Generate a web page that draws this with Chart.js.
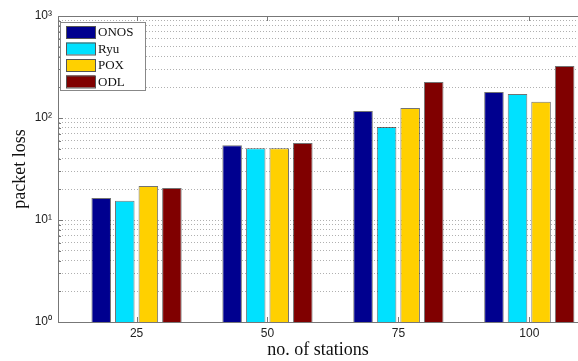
<!DOCTYPE html>
<html>
<head>
<meta charset="utf-8">
<title>Packet loss vs number of stations</title>
<script src="https://cdn.jsdelivr.net/npm/chart.js@4"></script>
<style>
  html, body { margin: 0; padding: 0; background: #fff; overflow: hidden; }
  #wrap { width: 578px; height: 361px; position: relative; }
</style>
</head>
<body>
<div id="wrap"><canvas id="lossChart" width="578" height="361"></canvas></div>
<script>
// Data (log-scale y axis)
const stations = [25, 50, 75, 100];
const seriesNames = ['ONOS', 'Ryu', 'POX', 'ODL'];
const onosLoss = [16.4, 54, 117, 180];
const ryuLoss = [15.4, 50.5, 81.5, 172];
const poxLoss = [21.5, 50.5, 125, 144];
const odlLoss = [20.6, 57, 225, 323];
const yTickLabels = { 1: '10\u2070', 10: '10\u00B9', 100: '10\u00B2', 1000: '10\u00B3' };

const fills = ['#00008F', '#00E1FF', '#FFD000', '#800000'];
const axisColor = '#777';

function toPoints(vals) {
    return vals.map((v, i) => ({ x: stations[i], y: v }));
}

// MATLAB-style box: solid spines, inward ticks, legend inside the axes
const matlabBox = {
    id: 'matlabBox',
    afterDraw(chart) {
        const ctx = chart.ctx;
        const area = chart.chartArea;
        const xs = chart.scales.x;
        const ys = chart.scales.y;
        ctx.save();
        ctx.strokeStyle = axisColor;
        ctx.lineWidth = 1;
        ctx.setLineDash([]);
        ctx.beginPath();
        ctx.moveTo(area.left, area.top + 0.5);
        ctx.lineTo(area.right, area.top + 0.5);
        ctx.moveTo(area.left + 0.5, area.top);
        ctx.lineTo(area.left + 0.5, area.bottom);
        ctx.moveTo(area.left, area.bottom + 0.5);
        ctx.lineTo(area.right, area.bottom + 0.5);
        // x ticks, inward on top and bottom
        stations.forEach(s => {
            const px = Math.round(xs.getPixelForValue(s)) + 0.5;
            ctx.moveTo(px, area.bottom);
            ctx.lineTo(px, area.bottom - 5);
            ctx.moveTo(px, area.top);
            ctx.lineTo(px, area.top + 5);
        });
        // y ticks, inward on the left
        for (let d = 1; d <= 100; d *= 10) {
            for (let m = 1; m <= 10; m++) {
                const py = Math.round(ys.getPixelForValue(d * m)) + 0.5;
                const len = (m === 1 || m === 10) ? 5 : 3;
                ctx.moveTo(area.left, py);
                ctx.lineTo(area.left + len, py);
            }
        }
        ctx.stroke();

        // legend box
        const lx = 60, ly = 22, lw = 85, lh = 68;
        ctx.fillStyle = '#fff';
        ctx.fillRect(lx, ly, lw, lh);
        ctx.strokeStyle = '#888';
        ctx.strokeRect(lx + 0.5, ly + 0.5, lw, lh);
        ctx.font = '13px "Liberation Serif", "Times New Roman", serif';
        ctx.textBaseline = 'middle';
        chart.data.datasets.forEach((ds, i) => {
            const top = ly + 4 + i * 16.5;
            ctx.fillStyle = ds.backgroundColor;
            ctx.fillRect(lx + 6, top, 29, 12);
            ctx.strokeStyle = '#555';
            ctx.strokeRect(lx + 6.5, top + 0.5, 29, 12);
            ctx.fillStyle = '#111';
            ctx.fillText(ds.label, lx + 38, top + 7);
        });
        ctx.restore();
    }
};

const datasets = [onosLoss, ryuLoss, poxLoss, odlLoss].map((vals, i) => ({
    label: seriesNames[i],
    data: toPoints(vals),
    backgroundColor: fills[i],
    borderColor: 'rgba(0,0,0,0.55)',
    borderWidth: 1,
    borderSkipped: 'bottom',
    barPercentage: 0.83,
    categoryPercentage: 0.72
}));

new Chart(document.getElementById('lossChart'), {
    type: 'bar',
    data: { datasets: datasets },
    options: {
        responsive: false,
        animation: false,
        layout: { padding: { top: 16, right: 0, left: 0, bottom: 0 } },
        plugins: {
            legend: { display: false },
            tooltip: { enabled: false }
        },
        scales: {
            x: {
                type: 'linear',
                offset: false,
                min: 10,
                max: 109.3,
                afterBuildTicks: s => { s.ticks = stations.map(v => ({ value: v })); },
                afterFit: s => { s.height = 39; },
                grid: { display: false, drawTicks: false, offset: false },
                border: { display: true, color: axisColor },
                ticks: {
                    color: '#222',
                    padding: 4,
                    font: { family: '"Liberation Sans", Arial, sans-serif', size: 12 },
                    callback: v => String(v)
                },
                title: {
                    display: true,
                    text: 'no. of stations',
                    color: '#111',
                    padding: { top: 0, bottom: 0 },
                    font: { family: '"Liberation Serif", "Times New Roman", serif', size: 18 }
                }
            },
            y: {
                type: 'logarithmic',
                min: 1,
                max: 1000,
                afterFit: s => { s.width = 58; },
                afterBuildTicks: s => {
                    const t = [];
                    for (let d = 1; d <= 100; d *= 10) {
                        for (let m = 1; m < 10; m++) t.push({ value: d * m });
                    }
                    t.push({ value: 1000 });
                    s.ticks = t;
                },
                grid: {
                    color: ctx => ctx.tick && ctx.tick.value === 1 ? 'rgba(0,0,0,0)' : '#b0b0b0',
                    drawTicks: false
                },
                border: { display: true, color: axisColor, dash: [1, 2] },
                ticks: {
                    autoSkip: false,
                    color: '#222',
                    padding: 6,
                    font: { family: '"Liberation Sans", Arial, sans-serif', size: 12 },
                    callback: v => yTickLabels[v] || ''
                },
                title: {
                    display: true,
                    text: 'packet loss',
                    color: '#111',
                    padding: { top: 9, bottom: 0 },
                    font: { family: '"Liberation Serif", "Times New Roman", serif', size: 18 }
                }
            }
        }
    },
    plugins: [matlabBox]
});
</script>
</body>
</html>
